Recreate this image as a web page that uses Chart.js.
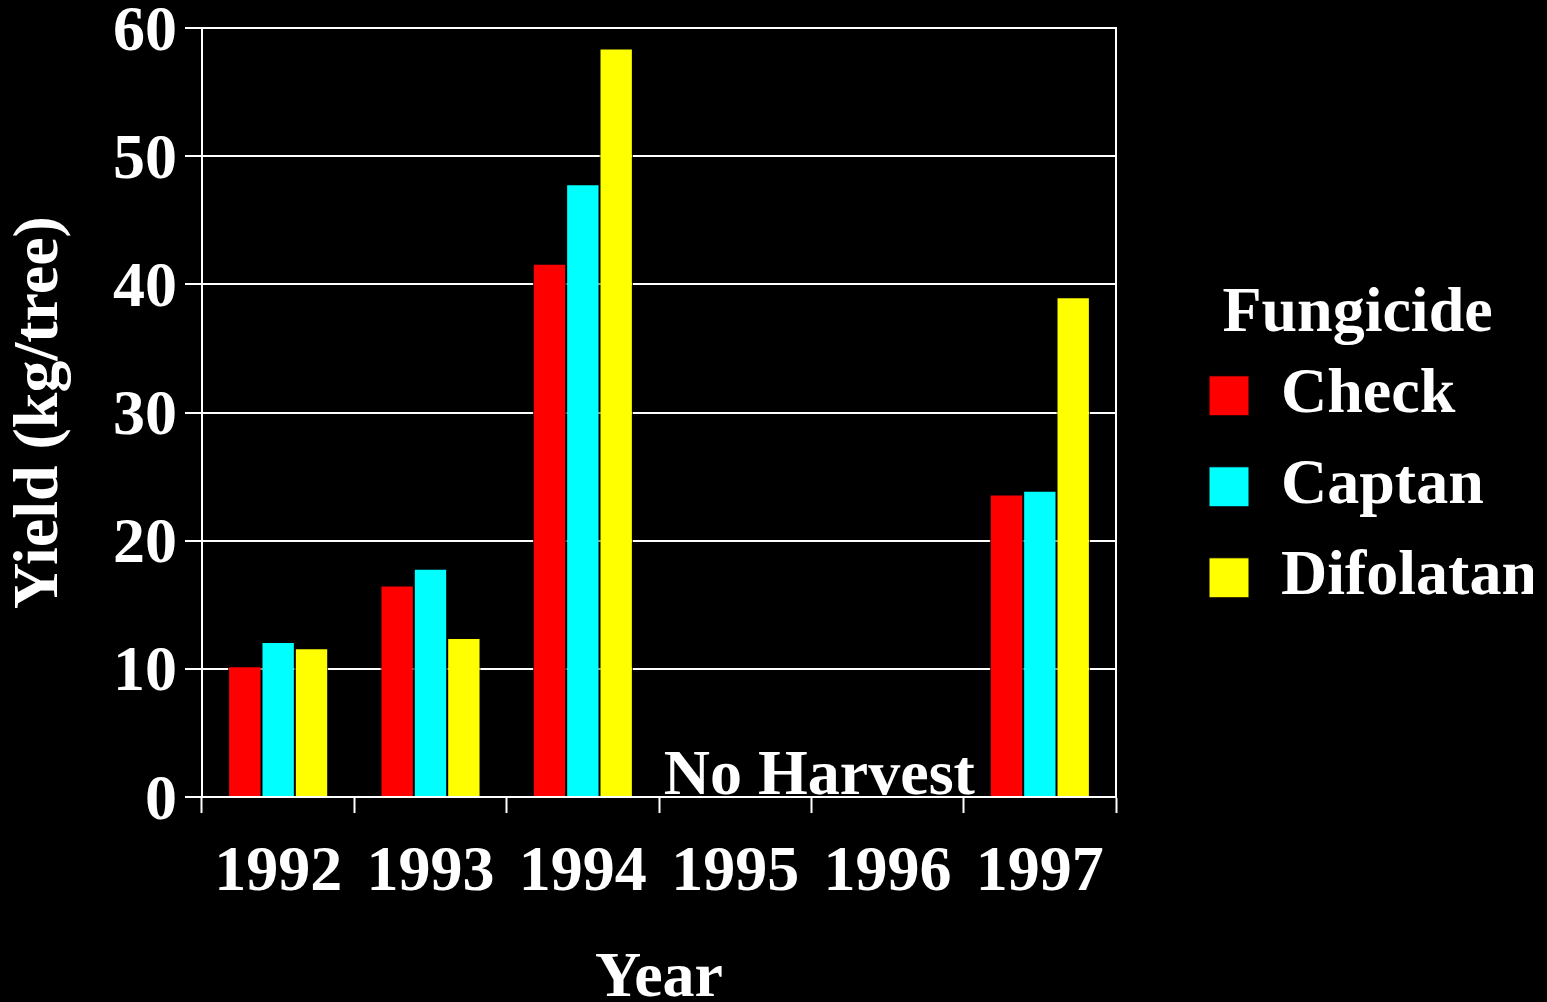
<!DOCTYPE html>
<html>
<head>
<meta charset="utf-8">
<script src="https://cdn.jsdelivr.net/npm/chart.js@4.4.0/dist/chart.umd.min.js"></script>
<style>
  html, body { margin: 0; padding: 0; background: #000; }
  #wrap { width: 1547px; height: 1002px; position: relative; }
</style>
</head>
<body>
<div id="wrap"><canvas id="c"></canvas></div>
<script>
const years = ['1992', '1993', '1994', '1995', '1996', '1997'];
const checkYield = [10.2, 16.5, 41.6, null, null, 23.6];
const captanYield = [12.1, 17.8, 47.8, null, null, 23.9];
const difolatanYield = [11.6, 12.4, 58.4, null, null, 39.0];
const seriesNames = ['Check', 'Captan', 'Difolatan'];
const seriesColors = ['#ff0000', '#00ffff', '#ffff00'];
const noHarvestLabel = 'No Harvest';

const FAMILY = '"Liberation Serif", "Times New Roman", Times, serif';
Chart.defaults.font.family = FAMILY;
Chart.defaults.color = '#ffffff';

const bgPlugin = {
  id: 'bg',
  beforeDraw(chart) {
    const ctx = chart.ctx;
    ctx.save();
    ctx.fillStyle = '#000';
    ctx.fillRect(0, 0, chart.width, chart.height);
    ctx.restore();
  }
};

const noHarvestPlugin = {
  id: 'noHarvest',
  afterDatasetsDraw(chart) {
    const x = chart.scales.x, y = chart.scales.y;
    const ctx = chart.ctx;
    const cx = (x.getPixelForValue(3) + x.getPixelForValue(4)) / 2 + 8;
    const cy = y.getPixelForValue(0) - 3;
    ctx.save();
    ctx.font = 'bold 64px ' + FAMILY;
    ctx.fillStyle = '#ffffff';
    ctx.textAlign = 'center';
    ctx.textBaseline = 'alphabetic';
    ctx.fillText(noHarvestLabel, cx, cy);
    ctx.restore();
  }
};

const values = [checkYield, captanYield, difolatanYield];
const datasets = seriesNames.map((name, i) => ({
  label: name,
  data: values[i],
  backgroundColor: seriesColors[i],
  borderColor: '#000000',
  borderWidth: 1,
  barPercentage: 1.0,
  categoryPercentage: 0.657
}));

new Chart(document.getElementById('c'), {
  type: 'bar',
  data: { labels: years, datasets },
  plugins: [bgPlugin, noHarvestPlugin],
  options: {
    responsive: true,
    maintainAspectRatio: false,
    animation: false,
    layout: { padding: { top: 28, right: 14, bottom: 0, left: 0 } },
    plugins: {
      tooltip: { enabled: false },
      legend: {
        display: true,
        position: 'right',
        align: 'start',
        fullSize: false,
        maxWidth: 351,
        title: {
          display: true,
          text: 'Fungicide',
          color: '#ffffff',
          font: { size: 64, weight: 'bold', lineHeight: 0.856 },
          padding: { top: 254, bottom: 0 }
        },
        labels: {
          color: '#ffffff',
          boxWidth: 40,
          boxHeight: 40,
          padding: 27,
          font: { size: 64, weight: 'bold' }
        }
      }
    },
    scales: {
      x: {
        grid: {
          display: true,
          drawOnChartArea: false,
          drawTicks: true,
          offset: true,
          tickLength: 16,
          tickWidth: 2,
          tickColor: '#ffffff'
        },
        border: { display: true, color: '#ffffff', width: 2 },
        ticks: {
          color: '#ffffff',
          padding: 22,
          font: { size: 64, weight: 'bold' },
          maxRotation: 0,
          autoSkip: false
        },
        title: {
          display: true,
          text: 'Year',
          color: '#ffffff',
          font: { size: 64, weight: 'bold', lineHeight: 0.7 },
          padding: 0
        },
        afterFit(s) { s.height = 205; s.paddingLeft = 0; s.paddingRight = 0; }
      },
      y: {
        min: 0,
        max: 60,
        ticks: {
          stepSize: 10,
          color: '#ffffff',
          padding: 8,
          labelOffset: 5,
          font: { size: 64, weight: 'bold' }
        },
        grid: {
          color: '#ffffff',
          lineWidth: 2,
          drawTicks: true,
          tickLength: 17,
          tickColor: '#ffffff'
        },
        border: { display: true, color: '#ffffff', width: 2 },
        title: {
          display: true,
          text: 'Yield (kg/tree)',
          color: '#ffffff',
          font: { size: 64, weight: 'bold', lineHeight: 1.25 },
          padding: 0
        },
        afterFit(s) { s.width = 202; s.paddingTop = 0; s.paddingBottom = 0; }
      },
      y2: {
        position: 'right',
        display: true,
        grid: { drawOnChartArea: false, drawTicks: false },
        ticks: { display: false },
        border: { display: true, color: '#ffffff', width: 2 },
        afterFit(s) { s.width = 66; s.paddingTop = 0; s.paddingBottom = 0; }
      }
    }
  }
});
</script>
</body>
</html>
